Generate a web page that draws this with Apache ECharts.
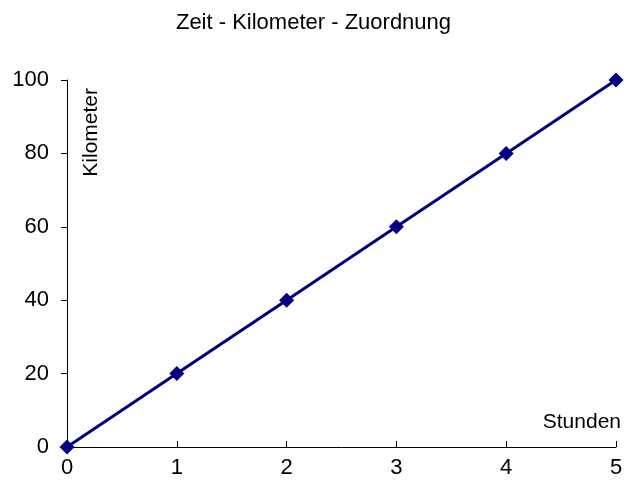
<!DOCTYPE html>
<html>
<head>
<meta charset="utf-8">
<script src="https://cdn.jsdelivr.net/npm/echarts@6/dist/echarts.min.js"></script>
<style>
  html, body { margin: 0; padding: 0; background: #fff; }
  #chart { width: 627px; height: 490px; }
</style>
</head>
<body>
<div id="chart"></div>
<script>
// Daten
const stunden = [0, 1, 2, 3, 4, 5]
const kilometer = [0, 20, 40, 60, 80, 100]

const chart = echarts.init(document.getElementById('chart'))

const fontFamily = '"Liberation Sans", Arial, sans-serif'

chart.setOption({
  backgroundColor: '#fff',
  animation: false,
  title: {
    text: 'Zeit - Kilometer - Zuordnung',
    left: 'center',
    top: 7,
    textStyle: { fontFamily, fontSize: 22, fontWeight: 'normal', color: '#000' },
  },
  grid: { left: 67, right: 11, top: 80, bottom: 43 },
  xAxis: {
    type: 'value',
    min: 0,
    max: 5,
    interval: 1,
    axisLine: { lineStyle: { color: '#000', width: 1 } },
    axisTick: { inside: true, length: 6, lineStyle: { color: '#000' } },
    axisLabel: { fontFamily, fontSize: 22, color: '#000', margin: 10 },
    splitLine: { show: false },
  },
  yAxis: {
    type: 'value',
    min: 0,
    max: 100,
    interval: 20,
    axisLine: { show: true, lineStyle: { color: '#000', width: 1 } },
    axisTick: { show: true, length: 6, lineStyle: { color: '#000' } },
    axisLabel: { fontFamily, fontSize: 22, color: '#000', margin: 18 },
    splitLine: { show: false },
  },
  graphic: [
    {
      type: 'text',
      left: 81,
      top: 88,
      rotation: Math.PI / 2,
      style: { text: 'Kilometer', fontFamily, fontSize: 21, fill: '#000' },
    },
    {
      type: 'text',
      right: 6,
      top: 412,
      style: { text: 'Stunden', fontFamily, fontSize: 21, fill: '#000' },
    },
  ],
  series: [
    {
      type: 'line',
      data: stunden.map((s, i) => [s, kilometer[i]]),
      symbol: 'diamond',
      symbolSize: 15,
      lineStyle: { color: '#000080', width: 3 },
      itemStyle: { color: '#000080' },
    },
  ],
})
</script>
</body>
</html>
